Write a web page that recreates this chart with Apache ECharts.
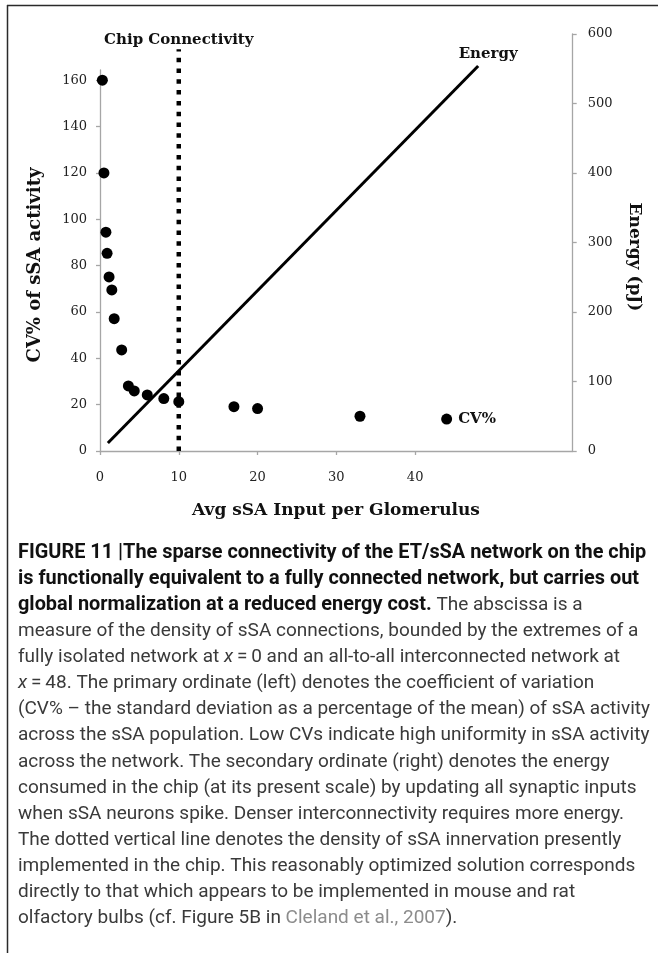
<!DOCTYPE html>
<html>
<head>
<meta charset="utf-8">
<script src="https://cdn.jsdelivr.net/npm/echarts@6/dist/echarts.min.js"></script>
<style>
html,body{margin:0;padding:0;background:#fff;}
#chart{width:658px;height:953px;}
</style>
</head>
<body>
<div id="chart"></div>
<script>
// ---- data ----
var cvX = [0.3, 0.5, 0.75, 0.9, 1.15, 1.5, 1.8, 2.75, 3.6, 4.35, 6, 8.1, 10, 17, 20, 33, 44];
var cvY = [160, 120, 94.4, 85.3, 75.1, 69.5, 57.1, 43.6, 28.1, 25.9, 24.2, 22.6, 21.3, 19.1, 18.3, 15, 13.8];
var energyX = [1, 48];
var energyY = [11.5, 554];
var chipX = [10, 10];
var chipY = [0, 578];
var xTicks = [0, 10, 20, 30, 40];
var cvTicks = [0, 20, 40, 60, 80, 100, 120, 140, 160];
var energyTicks = [0, 100, 200, 300, 400, 500, 600];

var captionLines = [
  '{b|FIGURE 11 |The sparse connectivity of the ET/sSA network on the chip}',
  '{b|is functionally equivalent to a fully connected network, but carries out}',
  '{b|global normalization at a reduced energy cost.}{n| The abscissa is a}',
  '{n|measure of the density of sSA connections, bounded by the extremes of a}',
  '{n|fully isolated network at }{i|x}{n|\u2009=\u20090 and an all-to-all interconnected network at}',
  '{i|x}{n|\u2009=\u200948. The primary ordinate (left) denotes the coefficient of variation}',
  '{n|(CV% \u2013 the standard deviation as a percentage of the mean) of sSA activity}',
  '{n|across the sSA population. Low CVs indicate high uniformity in sSA activity}',
  '{n|across the network. The secondary ordinate (right) denotes the energy}',
  '{n|consumed in the chip (at its present scale) by updating all synaptic inputs}',
  '{n|when sSA neurons spike. Denser interconnectivity requires more energy.}',
  '{n|The dotted vertical line denotes the density of sSA innervation presently}',
  '{n|implemented in the chip. This reasonably optimized solution corresponds}',
  '{n|directly to that which appears to be implemented in mouse and rat}',
  '{n|olfactory bulbs (cf. Figure 5B in }{l|Cleland et al., 2007}{n|).}'
];

function zip(a, b) { return a.map(function (v, i) { return [v, b[i]]; }); }

var SERIF = '"DejaVu Serif", "Liberation Serif", serif';
var SANS = 'Roboto, "Liberation Sans", sans-serif';
var AX = '#a6a6a6';

var capSize = 19;
var capRich = {
  b: {fontFamily: SANS, fontSize: 19.9, fontWeight: 'bold', fill: '#111'},
  n: {fontFamily: SANS, fontSize: capSize, fontWeight: 'normal', fill: '#3a3a3a'},
  i: {fontFamily: SANS, fontSize: capSize, fontStyle: 'italic', fill: '#3a3a3a'},
  l: {fontFamily: SANS, fontSize: capSize, fill: '#8c8c8c'}
};

var graphics = [
  {type: 'line', shape: {x1: 7, y1: 5.5, x2: 658, y2: 5.5}, style: {stroke: '#2a2a2a', lineWidth: 1.5}, silent: true},
  {type: 'line', shape: {x1: 7.5, y1: 5, x2: 7.5, y2: 953}, style: {stroke: '#2a2a2a', lineWidth: 1.5}, silent: true},
  {type: 'text', x: 35, y: 265, rotation: Math.PI / 2,
    style: {text: 'CV% of sSA activity', fontFamily: SERIF, fontWeight: 'bold', fontSize: 18, fill: '#111', align: 'center', verticalAlign: 'middle'}},
  {type: 'text', x: 634, y: 257, rotation: -Math.PI / 2,
    style: {text: 'Energy (pJ)', fontFamily: SERIF, fontWeight: 'bold', fontSize: 17, fill: '#111', align: 'center', verticalAlign: 'middle'}},
  {type: 'text', x: 336, y: 511,
    style: {text: 'Avg sSA Input per Glomerulus', fontFamily: SERIF, fontWeight: 'bold', fontSize: 17, fill: '#111', align: 'center', verticalAlign: 'middle'}}
];
captionLines.forEach(function (t, k) {
  graphics.push({type: 'text', x: 18, y: 553 + k * 26.1,
    style: {text: t, rich: capRich, align: 'left', verticalAlign: 'middle'}});
});

function lastLabel(xs, ys, lab) {
  return zip(xs, ys).map(function (p, i) {
    return i === xs.length - 1 ? {value: p, label: lab} : {value: p};
  });
}

var chart = echarts.init(document.getElementById('chart'), null, {renderer: 'canvas'});
chart.setOption({
  animation: false,
  backgroundColor: '#fff',
  grid: [
    {left: 100, right: 85.3, top: 70, bottom: 502},
    {left: 100, right: 85.3, top: 34, bottom: 502}
  ],
  xAxis: [
    {type: 'value', gridIndex: 0, min: 0, max: 60,
      splitLine: {show: false},
      axisLine: {onZero: false, lineStyle: {color: AX, width: 1.3}},
      axisTick: {show: true, length: 4, lineStyle: {color: AX, width: 1.3}, customValues: xTicks},
      axisLabel: {customValues: xTicks, fontFamily: SERIF, fontSize: 13, color: '#222', margin: 20}},
    {type: 'value', gridIndex: 1, min: 0, max: 60, show: false, splitLine: {show: false},
      axisLine: {show: false}, axisTick: {show: false}, axisLabel: {show: false}}
  ],
  yAxis: [
    {type: 'value', gridIndex: 0, position: 'left', min: 0, max: 164.4,
      splitLine: {show: false},
      axisLine: {show: true, onZero: false, lineStyle: {color: AX, width: 1.3}},
      axisTick: {show: true, length: 4, lineStyle: {color: AX, width: 1.3}, customValues: cvTicks},
      axisLabel: {customValues: cvTicks, fontFamily: SERIF, fontSize: 13, color: '#222', margin: 13}},
    {type: 'value', gridIndex: 1, position: 'right', min: 0, max: 600,
      splitLine: {show: false},
      axisLine: {show: true, onZero: false, lineStyle: {color: AX, width: 1.3}},
      axisTick: {show: true, length: 4, lineStyle: {color: AX, width: 1.3}, customValues: energyTicks},
      axisLabel: {customValues: energyTicks, fontFamily: SERIF, fontSize: 13, color: '#222', margin: 15}}
  ],
  series: [
    {type: 'line', xAxisIndex: 1, yAxisIndex: 1, clip: false,
      symbol: 'circle', symbolSize: 0.01, showSymbol: true,
      itemStyle: {color: '#000'},
      data: lastLabel(chipX, chipY, {show: true, position: 'top', distance: 2, formatter: 'Chip Connectivity',
        fontFamily: SERIF, fontWeight: 'bold', fontSize: 15, color: '#111'}),
      lineStyle: {color: '#000', width: 4.5, type: [4.5, 6.3], cap: 'butt'}},
    {type: 'line', xAxisIndex: 1, yAxisIndex: 1, clip: false,
      symbol: 'circle', symbolSize: 0.01, showSymbol: true,
      itemStyle: {color: '#000'},
      data: lastLabel(energyX, energyY, {show: true, position: 'top', offset: [10, 0], distance: 4, formatter: 'Energy',
        fontFamily: SERIF, fontWeight: 'bold', fontSize: 15, color: '#111'}),
      lineStyle: {color: '#000', width: 3}},
    {type: 'scatter', xAxisIndex: 0, yAxisIndex: 0, clip: false,
      symbol: 'circle', symbolSize: 11,
      itemStyle: {color: '#000', opacity: 1},
      data: lastLabel(cvX, cvY, {show: true, position: 'right', distance: 6, formatter: 'CV%',
        fontFamily: SERIF, fontWeight: 'bold', fontSize: 15, color: '#111'})}
  ],
  graphic: graphics
});
</script>
</body>
</html>
